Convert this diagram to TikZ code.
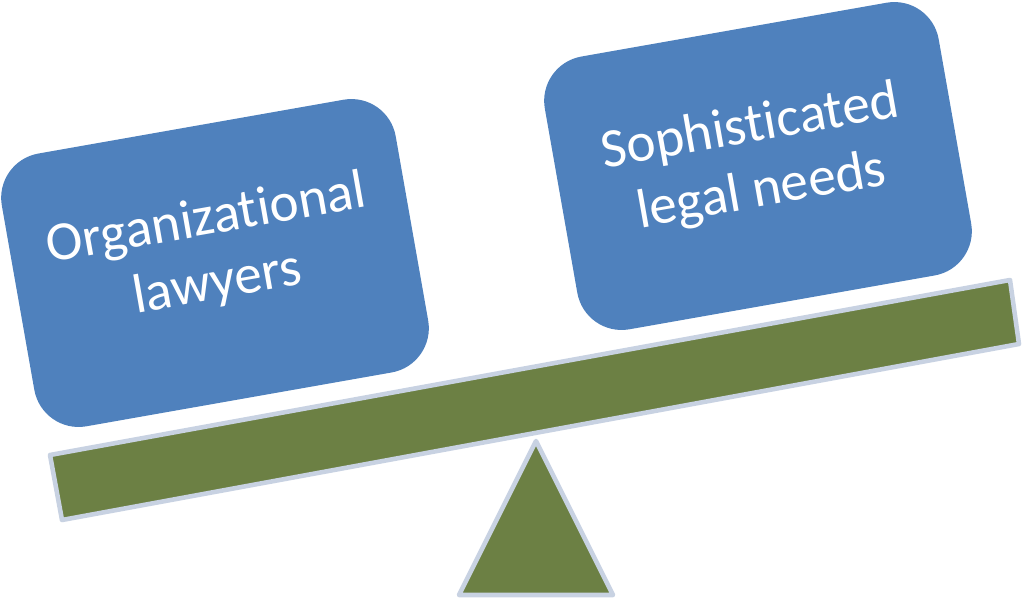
\documentclass[tikz,border=0pt]{standalone}
\usepackage{fontspec}
\setmainfont{Carlito}[Ligatures=NoCommon]
\definecolor{panblue}{RGB}{79,129,189}
\definecolor{plankgreen}{RGB}{108,128,68}
\definecolor{rimgray}{RGB}{200,210,226}
\begin{document}
\begin{tikzpicture}[x=0.02cm,y=-0.02cm,
    pan/.style={rectangle,rounded corners=0.9cm,fill=panblue,
      minimum width=8cm,minimum height=5.54cm,rotate=10,inner sep=0pt},
    pantext/.style={text=white,rotate=10,align=center,inner sep=0pt,
      font=\fontsize{31.5}{37}\selectfont},
    plank/.style={fill=plankgreen,draw=rimgray,line width=2.6pt,line join=round}]
  \useasboundingbox (0,0) rectangle (1025,603);
  % the two pans
  \node[pan] (lawyers) at (215,263) {};
  \node[pantext] (lawyerstext) at (212,252) {Organizational\\lawyers};
  \node[pan] (needs) at (758,166) {};
  \node[pantext] (needstext) at (756,160) {Sophisticated\\legal needs};
  % beam and pivot
  \coordinate (b1) at (50,455);
  \coordinate (b2) at (1010,280);
  \coordinate (b3) at (1019,344);
  \coordinate (b4) at (62,520);
  \draw[plank] (b1) -- (b2) -- (b3) -- (b4) -- cycle;
  \coordinate (apex) at (536,441);
  \coordinate (foot1) at (459,595);
  \coordinate (foot2) at (613,595);
  \draw[plank] (apex) -- (foot2) -- (foot1) -- cycle;
\end{tikzpicture}
\end{document}
